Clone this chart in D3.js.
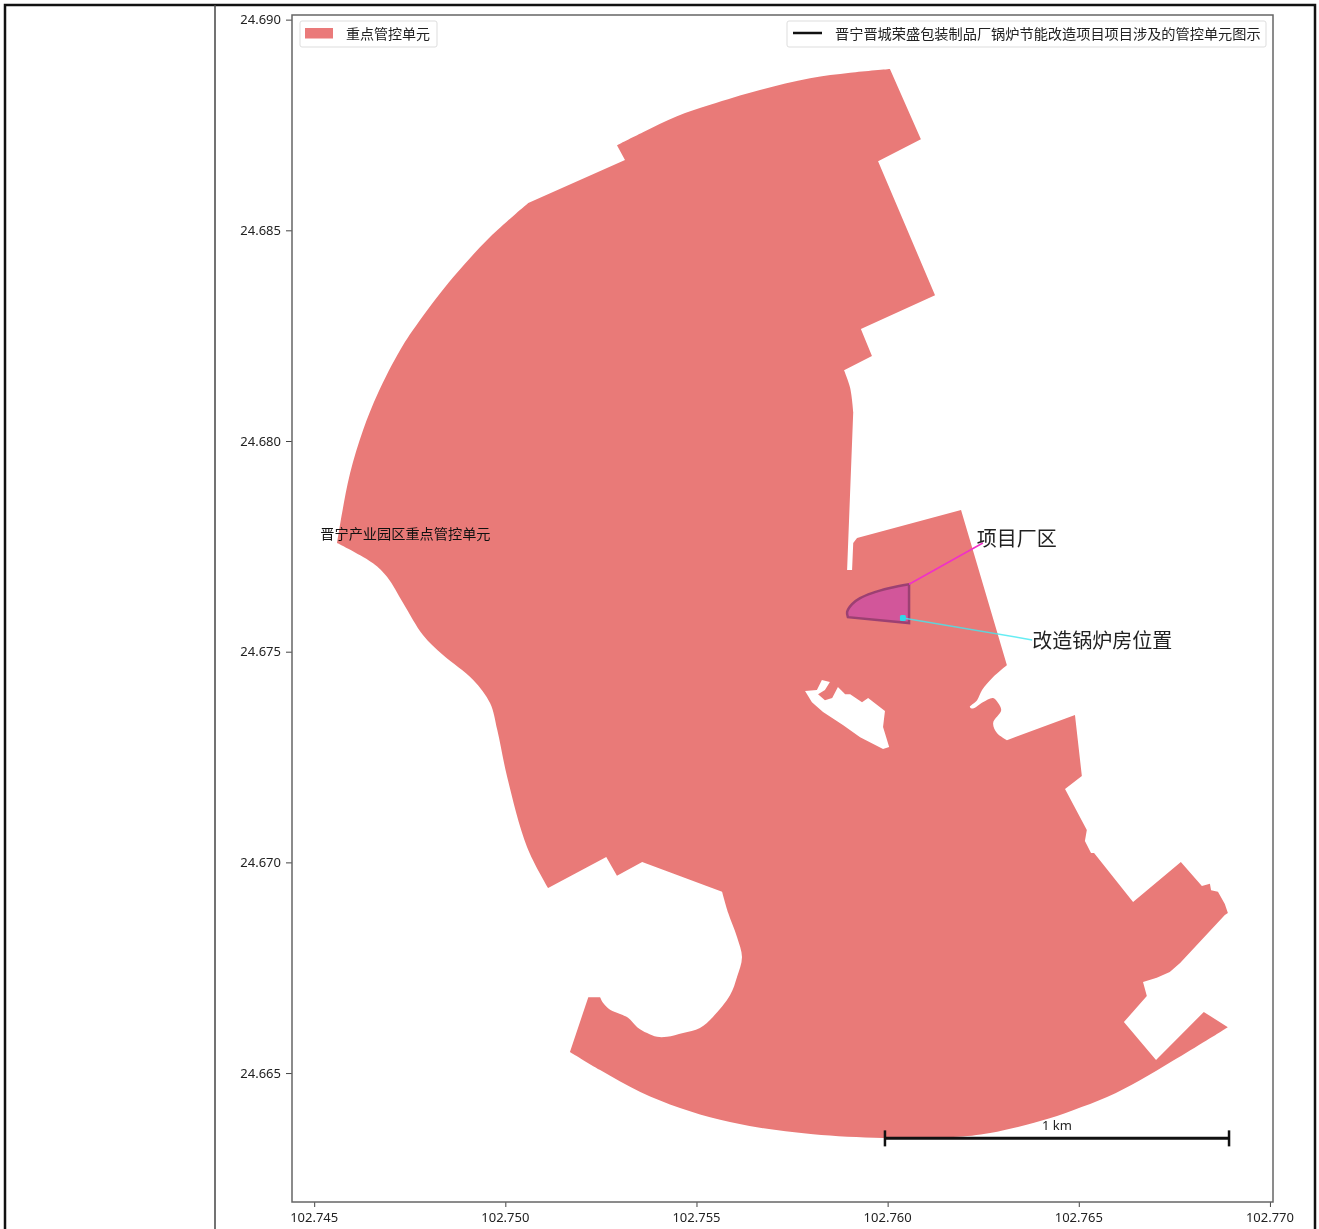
<!DOCTYPE html>
<html>
<head>
<meta charset="utf-8">
<script src="https://cdn.jsdelivr.net/npm/d3@7"></script>
<style>
body { margin: 0; background: #fff; }
svg { filter: blur(0.4px); }
text { font-family: "Noto Sans", "Noto Sans CJK SC", sans-serif; fill: #222; }
.cjk { font-family: "Noto Sans CJK SC", sans-serif; }
</style>
</head>
<body>
<div id="map"></div>
<script>
// Values, [lon, lat]
var xTicks = [102.745, 102.750, 102.755, 102.760, 102.765, 102.770];
var yTicks = [24.665, 24.670, 24.675, 24.680, 24.685, 24.690];

// Outline of the unit, split where the boundary is curved or straight
var eastBlocks = [
    [102.76006, 24.68883], [102.76087, 24.68716], [102.75975, 24.68664], [102.76124, 24.68346],
    [102.75930, 24.68266], [102.75959, 24.68202], [102.75886, 24.68168]
];
var eastBend = [
    [102.75886, 24.68168], [102.75902, 24.68126], [102.75910, 24.68069]
];
var eastNotch = [
    [102.75910, 24.68069], [102.75894, 24.67694], [102.75907, 24.67694], [102.75910, 24.67758],
    [102.75920, 24.67770], [102.76192, 24.67836], [102.76312, 24.67468]
];
var eastBay = [
    [102.76312, 24.67468], [102.76276, 24.67440], [102.76247, 24.67409], [102.76234, 24.67385],
    [102.76215, 24.67369], [102.76223, 24.67365], [102.76249, 24.67380], [102.76276, 24.67390],
    [102.76289, 24.67378], [102.76297, 24.67361], [102.76276, 24.67331], [102.76286, 24.67307],
    [102.76312, 24.67290]
];
var southEastBlocks = [
    [102.76312, 24.67290], [102.76490, 24.67350], [102.76508, 24.67205], [102.76464, 24.67174],
    [102.76521, 24.67077], [102.76516, 24.67051], [102.76532, 24.67022], [102.76540, 24.67022],
    [102.76642, 24.66906], [102.76767, 24.67001], [102.76822, 24.66944], [102.76843, 24.66949],
    [102.76846, 24.66934], [102.76864, 24.66930], [102.76882, 24.66901], [102.76890, 24.66880],
    [102.76882, 24.66875], [102.76765, 24.66761], [102.76738, 24.66740], [102.76704, 24.66726],
    [102.76668, 24.66716], [102.76678, 24.66683], [102.76618, 24.66621], [102.76702, 24.66531],
    [102.76827, 24.66645], [102.76890, 24.66609]
];
var southArc = [
    [102.76890, 24.66609], [102.76835, 24.66578], [102.76746, 24.66529], [102.76660, 24.66483],
    [102.76574, 24.66443], [102.76485, 24.66412], [102.76399, 24.66386], [102.76268, 24.66358],
    [102.76171, 24.66348], [102.75988, 24.66346], [102.75805, 24.66355], [102.75666, 24.66370],
    [102.75562, 24.66389], [102.75457, 24.66417], [102.75353, 24.66455], [102.75248, 24.66507],
    [102.75169, 24.66550]
];
var bayEntrance = [
    [102.75169, 24.66550], [102.75217, 24.66680], [102.75248, 24.66680]
];
var southBay = [
    [102.75248, 24.66680], [102.75256, 24.66666], [102.75274, 24.66650], [102.75300, 24.66640],
    [102.75321, 24.66631], [102.75345, 24.66609], [102.75371, 24.66595], [102.75397, 24.66586],
    [102.75423, 24.66586], [102.75465, 24.66595], [102.75509, 24.66607], [102.75543, 24.66633],
    [102.75588, 24.66685], [102.75606, 24.66728], [102.75619, 24.66775], [102.75606, 24.66823],
    [102.75583, 24.66880], [102.75567, 24.66930]
];
var southWestBlocks = [
    [102.75567, 24.66930], [102.75358, 24.67001], [102.75292, 24.66968], [102.75264, 24.67013],
    [102.75112, 24.66939]
];
var westShore = [
    [102.75112, 24.66939], [102.75057, 24.67036], [102.75005, 24.67202], [102.74979, 24.67314],
    [102.74960, 24.67378], [102.74916, 24.67433], [102.74837, 24.67492], [102.74785, 24.67539],
    [102.74733, 24.67615], [102.74691, 24.67677], [102.74654, 24.67710], [102.74560, 24.67758]
];
var westArc = [
    [102.74560, 24.67758], [102.74573, 24.67829], [102.74594, 24.67924], [102.74628, 24.68026],
    [102.74667, 24.68114], [102.74725, 24.68216], [102.74777, 24.68287], [102.74864, 24.68389],
    [102.74960, 24.68484], [102.75060, 24.68565]
];
var northStep = [
    [102.75060, 24.68565], [102.75313, 24.68667], [102.75292, 24.68702]
];
var northArc = [
    [102.75292, 24.68702], [102.75360, 24.68733], [102.75449, 24.68771], [102.75536, 24.68798],
    [102.75666, 24.68833], [102.75797, 24.68861], [102.75902, 24.68874], [102.76006, 24.68883]
];

var unitHole = [
    [102.75784, 24.67407], [102.75815, 24.67409], [102.75828, 24.67433], [102.75849, 24.67428],
    [102.75836, 24.67409], [102.75818, 24.67399], [102.75836, 24.67385], [102.75855, 24.67390],
    [102.75870, 24.67416], [102.75889, 24.67399], [102.75902, 24.67399], [102.75933, 24.67380],
    [102.75949, 24.67390], [102.75993, 24.67359], [102.75988, 24.67321], [102.76004, 24.67274],
    [102.75988, 24.67269], [102.75928, 24.67297], [102.75883, 24.67326], [102.75831, 24.67357],
    [102.75802, 24.67380]
];

var factoryEdge = [
    [102.76056, 24.67660], [102.76056, 24.67568], [102.75896, 24.67582]
];
var factoryCurve = [
    [102.75896, 24.67582], [102.75894, 24.67594], [102.75907, 24.67613], [102.75928, 24.67627],
    [102.75959, 24.67639], [102.76006, 24.67651], [102.76056, 24.67660]
];

var boiler = [102.76040, 24.67580];
var factoryLeader = [[102.76056, 24.67660], [102.76249, 24.67758]];
var boilerLeader = [boiler, [102.76378, 24.67528]];
var scaleBar = [[102.75993, 24.66345], [102.76893, 24.66345]];
var unitLabelAt = [102.74516, 24.67779];

var legendUnit = "重点管控单元";
var legendProject = "晋宁晋城荣盛包装制品厂锅炉节能改造项目项目涉及的管控单元图示";
var unitLabel = "晋宁产业园区重点管控单元";
var factoryLabel = "项目厂区";
var boilerLabel = "改造锅炉房位置";

// Canvas
var width = 1319, height = 1229;
var margin = { top: 15, right: 46, bottom: 27, left: 292 };

var svg = d3.select("#map").append("svg")
    .attr("width", width)
    .attr("height", height)
    .style("display", "block");

// table lines of the document the figure sits in
svg.append("path")
    .attr("d", "M5 1229 V5 H1315 V1229")
    .attr("fill", "none")
    .attr("stroke", "#111")
    .attr("stroke-width", 2.5);

svg.append("path")
    .attr("d", "M215 5 V1229")
    .attr("stroke", "#444")
    .attr("stroke-width", 1.5);

var x = d3.scaleLinear()
    .domain([102.74442, 102.77008])
    .range([margin.left, width - margin.right]);

var y = d3.scaleLinear()
    .domain([24.66194, 24.69011])
    .range([height - margin.bottom, margin.top]);

var line = d3.line()
    .x(function(d) { return x(d[0]); })
    .y(function(d) { return y(d[1]); });

var curve = d3.line()
    .x(function(d) { return x(d[0]); })
    .y(function(d) { return y(d[1]); })
    .curve(d3.curveCatmullRom.alpha(0.5));

// joins the pieces into one ring, each piece starts where the last one ended
function ring(pieces) {
    var result = "";
    pieces.forEach(function(p, i) {
        var d = p[1] ? curve(p[0]) : line(p[0]);
        result += i == 0 ? d : "L" + d.slice(1);
    });
    return result + "Z";
}

// Polygons
svg.append("path")
    .attr("d", ring([
        [eastBlocks, false], [eastBend, true], [eastNotch, false], [eastBay, true],
        [southEastBlocks, false], [southArc, true], [bayEntrance, false], [southBay, true],
        [southWestBlocks, false], [westShore, true], [westArc, true], [northStep, false],
        [northArc, true]
    ]) + line(unitHole) + "Z")
    .attr("fill", "#e97a78")
    .attr("fill-rule", "evenodd");

svg.append("path")
    .attr("d", ring([[factoryEdge, false], [factoryCurve, true]]))
    .attr("fill", "#d2569a")
    .attr("stroke", "#9c4072")
    .attr("stroke-width", 2.5);

svg.append("path")
    .attr("d", line(factoryLeader))
    .attr("fill", "none")
    .attr("stroke", "#f030c8")
    .attr("stroke-width", 1.5);

svg.append("path")
    .attr("d", line(boilerLeader))
    .attr("fill", "none")
    .attr("stroke", "#40e8f0")
    .attr("stroke-opacity", 0.8)
    .attr("stroke-width", 1.5);

svg.append("rect")
    .attr("x", x(boiler[0]) - 3)
    .attr("y", y(boiler[1]) - 3)
    .attr("width", 6)
    .attr("height", 6)
    .attr("rx", 1.5)
    .attr("fill", "#30d8e8");

// Axes
var xAxis = svg.append("g")
    .attr("transform", "translate(0," + (height - margin.bottom) + ")")
    .call(d3.axisBottom(x).tickValues(xTicks).tickFormat(d3.format(".3f")).tickSize(5).tickPadding(6));

var yAxis = svg.append("g")
    .attr("transform", "translate(" + margin.left + ",0)")
    .call(d3.axisLeft(y).tickValues(yTicks).tickFormat(d3.format(".3f")).tickSize(6).tickPadding(5));

xAxis.selectAll("text").attr("font-size", 13).attr("dx", -0.5).style("font-family", '"Noto Sans"');
yAxis.selectAll("text").attr("font-size", 13).style("font-family", '"Noto Sans"');
xAxis.select(".domain").remove();
yAxis.select(".domain").remove();
svg.selectAll(".tick line").attr("stroke", "#444");

svg.append("rect")
    .attr("x", margin.left)
    .attr("y", margin.top)
    .attr("width", width - margin.left - margin.right)
    .attr("height", height - margin.top - margin.bottom)
    .attr("fill", "none")
    .attr("stroke", "#666")
    .attr("stroke-width", 1.5);

// Legends
var legendLeft = svg.append("g");

legendLeft.append("rect")
    .attr("x", 300).attr("y", 21).attr("width", 137).attr("height", 26).attr("rx", 2)
    .attr("fill", "#fff").attr("stroke", "#ddd");

legendLeft.append("rect")
    .attr("x", 305).attr("y", 28).attr("width", 28).attr("height", 10.5)
    .attr("fill", "#ea7a7a");

legendLeft.append("text")
    .attr("class", "cjk")
    .attr("x", 346).attr("y", 38.5)
    .attr("font-size", 14)
    .text(legendUnit);

var legendRight = svg.append("g");

legendRight.append("rect")
    .attr("x", 787).attr("y", 21).attr("width", 479).attr("height", 26).attr("rx", 2)
    .attr("fill", "#fff").attr("stroke", "#ddd");

legendRight.append("path")
    .attr("d", "M793 33 H822")
    .attr("stroke", "#111")
    .attr("stroke-width", 2.5);

legendRight.append("text")
    .attr("class", "cjk")
    .attr("x", 835).attr("y", 38.5)
    .attr("font-size", 14.2)
    .text(legendProject);

// Labels
svg.append("text")
    .attr("class", "cjk")
    .attr("x", x(unitLabelAt[0]))
    .attr("y", y(unitLabelAt[1]) + 5)
    .attr("font-size", 14.2)
    .style("fill", "#111")
    .text(unitLabel);

svg.append("text")
    .attr("class", "cjk")
    .attr("x", x(factoryLeader[1][0]) - 6)
    .attr("y", y(factoryLeader[1][1]) + 3)
    .attr("font-size", 20)
    .text(factoryLabel);

svg.append("text")
    .attr("class", "cjk")
    .attr("x", x(boilerLeader[1][0]))
    .attr("y", y(boilerLeader[1][1]) + 8)
    .attr("font-size", 20)
    .text(boilerLabel);

// Scale bar
svg.append("path")
    .attr("d", line(scaleBar))
    .attr("stroke", "#111")
    .attr("stroke-width", 3);

svg.selectAll(".cap")
    .data(scaleBar)
    .enter().append("line")
    .attr("class", "cap")
    .attr("x1", function(d) { return x(d[0]); })
    .attr("x2", function(d) { return x(d[0]); })
    .attr("y1", function(d) { return y(d[1]) - 8; })
    .attr("y2", function(d) { return y(d[1]) + 8; })
    .attr("stroke", "#111")
    .attr("stroke-width", 2.5);

svg.append("text")
    .attr("x", x((scaleBar[0][0] + scaleBar[1][0]) / 2))
    .attr("y", y(scaleBar[0][1]) - 8)
    .attr("text-anchor", "middle")
    .attr("font-size", 13)
    .text("1 km");
</script>
</body>
</html>
